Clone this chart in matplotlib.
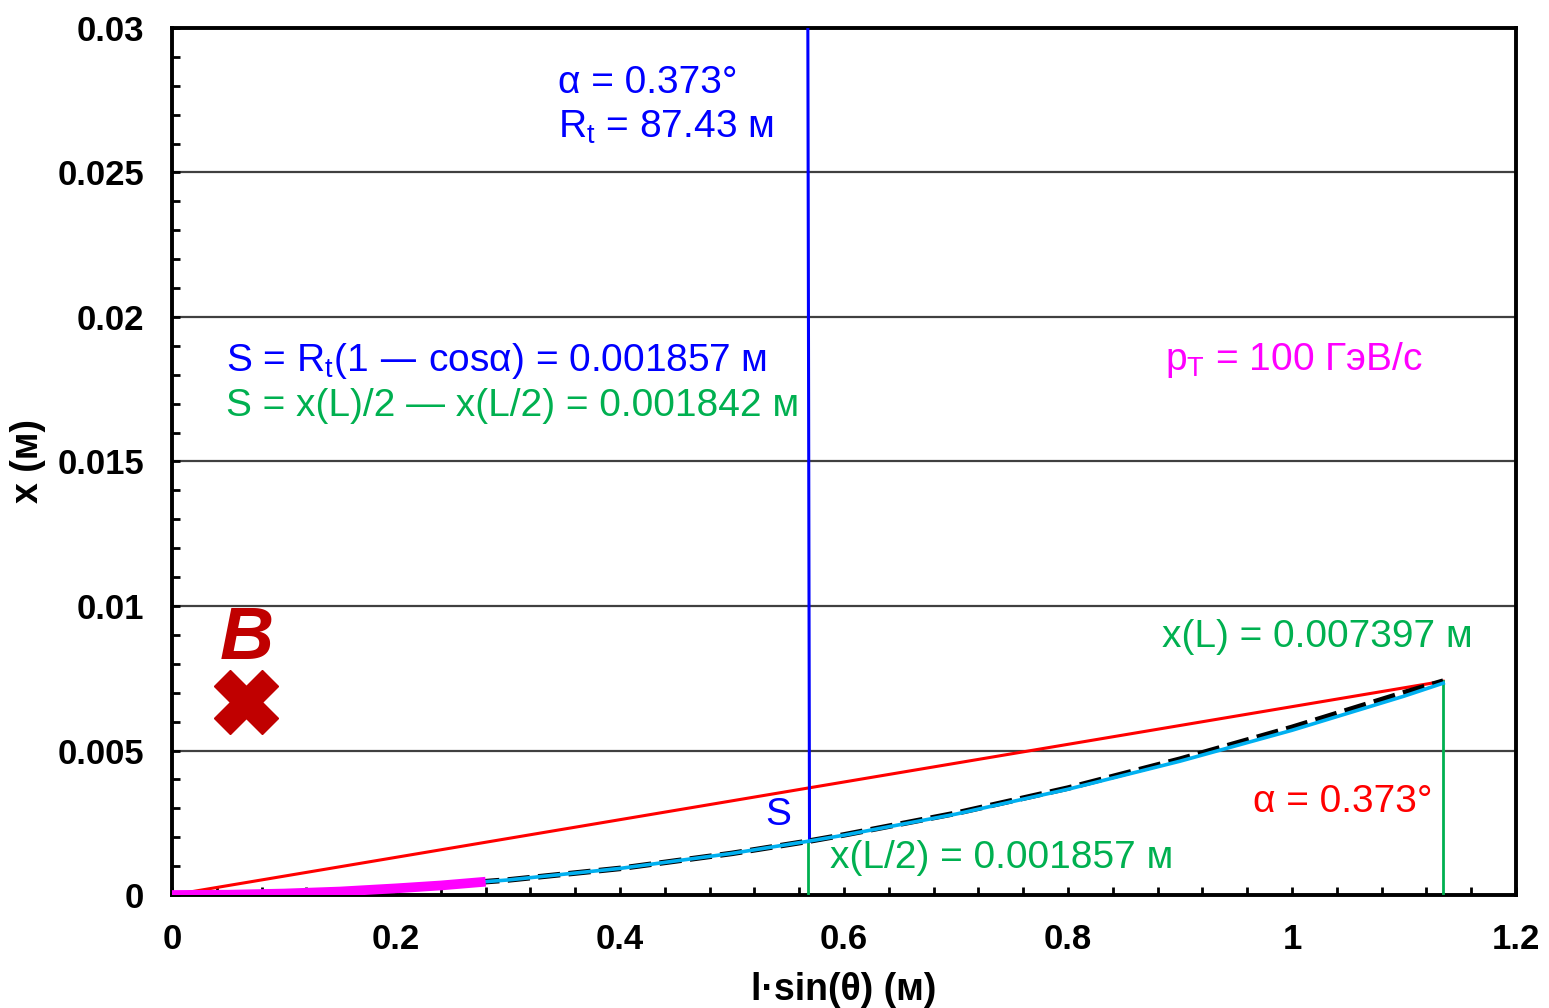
import numpy as np
import matplotlib
matplotlib.use("Agg")
from matplotlib import pyplot as plt
from matplotlib.ticker import MultipleLocator, FormatStrFormatter

plt.rcParams['font.family'] = ['Liberation Sans', 'DejaVu Sans']
plt.rcParams['mathtext.default'] = 'regular'

# траектория
traj_x = [0, 0.1, 0.2, 0.3, 0.4, 0.5, 0.568, 0.6, 0.7, 0.8, 0.9, 1.0, 1.1, 1.135]
traj_dash_y = [0, 0.00006, 0.00023, 0.00052, 0.00092, 0.00144, 0.00186, 0.00208,
               0.00283, 0.00370, 0.00470, 0.00580, 0.00700, 0.00740]
traj_cyan_y = [0, 0.00006, 0.00023, 0.00052, 0.00092, 0.00144, 0.00186, 0.00207,
               0.00280, 0.00366, 0.00463, 0.00570, 0.00688, 0.00733]
start_x = [0, 0.05, 0.1, 0.15, 0.2, 0.24, 0.28]
start_y = [0, 0.00001, 0.00005, 0.00012, 0.00023, 0.00033, 0.00046]

chord_x = [0, 1.135]
chord_y = [0, 0.007397]
mid_x = 0.568
mid_y = 0.001857
end_x = 1.135
end_y = 0.007397
sag_x = [0.5692, 0.5677]
sag_y = [0.00186, 0.0305]
b_pos = (0.066, 0.00668)

x_ticks = [0, 0.2, 0.4, 0.6, 0.8, 1, 1.2]
y_ticks = [0, 0.005, 0.01, 0.015, 0.02, 0.025, 0.03]

fig = plt.figure(figsize=(15.49, 10.08), dpi=100)
ax = fig.add_axes([172 / 1549, 1 - 895 / 1008, (1516 - 172) / 1549, (895 - 28) / 1008])

for yy in y_ticks[1:-1]:
    ax.axhline(yy, color='#404040', lw=1.6, zorder=1)

ax.plot(chord_x, chord_y, color='#FF0000', lw=2.2, zorder=3)
ax.plot(traj_x, traj_dash_y, color='black', lw=4, dashes=(4, 1.5), zorder=4)
ax.plot(traj_x, traj_cyan_y, color='#00B0F0', lw=2.6, zorder=5)
ax.plot(start_x, start_y, color='#FF00FF', lw=7, solid_capstyle='butt', zorder=6)
ax.plot([mid_x, mid_x], [0, mid_y], color='#00B050', lw=2, zorder=3)
ax.plot([end_x, end_x], [0, end_y], color='#00B050', lw=2, zorder=3)
ax.plot(sag_x, sag_y, color='#0000FF', lw=2.2, zorder=3)
ax.plot([b_pos[0]], [b_pos[1]], marker='X', ms=46, color='#C00000', mec='#C00000', zorder=6)

fs = 28
ax.text(0.3446, 0.0281, 'α = 0.373°', color='#0000FF', fontsize=fs, va='center')
ax.text(0.3446, 0.02657, 'R$_t$ = 87.43 м', color='#0000FF', fontsize=fs, va='center')
ax.text(0.0482, 0.01848, 'S = R$_t$(1 — cosα) = 0.001857 м', color='#0000FF', fontsize=fs, va='center')
ax.text(0.0482, 0.01692, 'S = x(L)/2 — x(L/2) = 0.001842 м', color='#00B050', fontsize=fs, va='center')
ax.text(0.8866, 0.01851, 'p$_T$ = 100 ГэВ/с', color='#FF00FF', fontsize=fs, va='center')
ax.text(0.884, 0.00893, 'x(L) = 0.007397 м', color='#00B050', fontsize=fs, va='center')
ax.text(0.965, 0.00322, 'α = 0.373°', color='#FF0000', fontsize=fs, va='center')
ax.text(0.541, 0.00277, 'S', color='#0000FF', fontsize=fs, va='center', ha='center')
ax.text(0.5875, 0.00128, 'x(L/2) = 0.001857 м', color='#00B050', fontsize=fs, va='center')
ax.text(0.067, 0.00883, 'B', color='#C00000', fontsize=54, fontweight='bold',
        fontstyle='italic', va='center', ha='center')

ax.set_xlim(0, 1.2)
ax.set_ylim(0, 0.03)
ax.set_xticks(x_ticks)
ax.set_yticks(y_ticks)
ax.xaxis.set_minor_locator(MultipleLocator(0.04))
ax.yaxis.set_minor_locator(MultipleLocator(0.001))
ax.xaxis.set_major_formatter(FormatStrFormatter('%g'))
ax.yaxis.set_major_formatter(FormatStrFormatter('%g'))
ax.tick_params(which='both', direction='in', width=2, length=6, pad=20,
               labelsize=25)
for lab in ax.get_xticklabels() + ax.get_yticklabels():
    lab.set_fontweight('bold')
for sp in ax.spines.values():
    sp.set_linewidth(2.8)

ax.set_xlabel('l·sin(θ) (м)', fontsize=27, fontweight='bold', labelpad=12)
ax.set_ylabel('x (м)', fontsize=27, fontweight='bold', labelpad=8)

fig.savefig('out.png', dpi=100)
